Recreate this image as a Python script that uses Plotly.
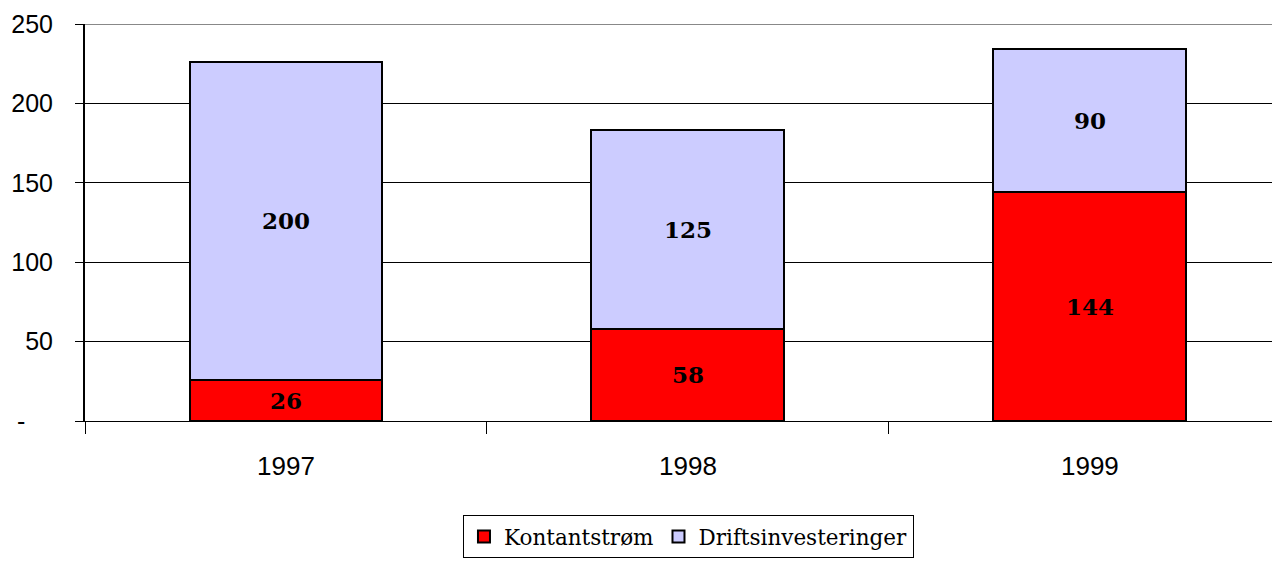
import plotly.graph_objects as go

years = ["1997", "1998", "1999"]
kontantstrom = [26, 58, 144]
drifts = [200, 125, 90]
y_tickvals = [0, 50, 100, 150, 200, 250]
y_ticktext = ["-" + "\u00a0" * 4, "50", "100", "150", "200", "250"]

label_font = dict(family="DejaVu Serif", size=23, color="black")

fig = go.Figure()
fig.add_trace(go.Bar(
    x=years, y=kontantstrom, name="Kontantstrøm",
    marker=dict(color="#FF0000", line=dict(color="black", width=2)),
    text=[str(v) for v in kontantstrom], textposition="inside",
    insidetextanchor="middle", textfont=label_font, constraintext="none",
    texttemplate="<b>%{text}</b>",
))
fig.add_trace(go.Bar(
    x=years, y=drifts, name="Driftsinvesteringer",
    marker=dict(color="#CCCCFF", line=dict(color="black", width=2)),
    text=[str(v) for v in drifts], textposition="inside",
    insidetextanchor="middle", textfont=label_font, constraintext="none",
    texttemplate="<b>%{text}</b>",
))

fig.update_layout(
    barmode="stack",
    bargap=0.52,
    width=1272, height=553,
    margin=dict(l=77, r=0, t=16, b=140, autoexpand=False),
    plot_bgcolor="white", paper_bgcolor="white",
    font=dict(family="Liberation Sans", size=24, color="black"),
    showlegend=True,
    legend=dict(
        orientation="h", x=0.505, xanchor="center", y=-0.237, yanchor="top",
        font=dict(family="DejaVu Serif", size=21.5, color="black"),
        bordercolor="black", borderwidth=1, bgcolor="white",
        traceorder="normal", itemwidth=30,
    ),
    shapes=[dict(type="line", xref="paper", yref="y", x0=0, x1=1, y0=250, y1=250,
                 line=dict(color="#888888", width=2))],
)
fig.update_xaxes(
    type="category", range=[-0.5, 2.473], tickson="boundaries", ticks="outside",
    ticklen=12, tickcolor="black", showline=True, linecolor="black", linewidth=1,
    showgrid=False, tickfont=dict(family="Liberation Sans", size=26),
    automargin=False, ticklabelstandoff=22,
)
fig.update_yaxes(
    range=[0, 250], tickvals=y_tickvals, ticktext=y_ticktext,
    ticks="outside", ticklen=8, tickcolor="black",
    showline=True, linecolor="black", linewidth=2,
    showgrid=True, gridcolor="black", gridwidth=1,
    zeroline=False, tickfont=dict(family="Liberation Sans", size=25),
    automargin=False, ticklabelstandoff=17,
)

fig.write_html("out.html")
